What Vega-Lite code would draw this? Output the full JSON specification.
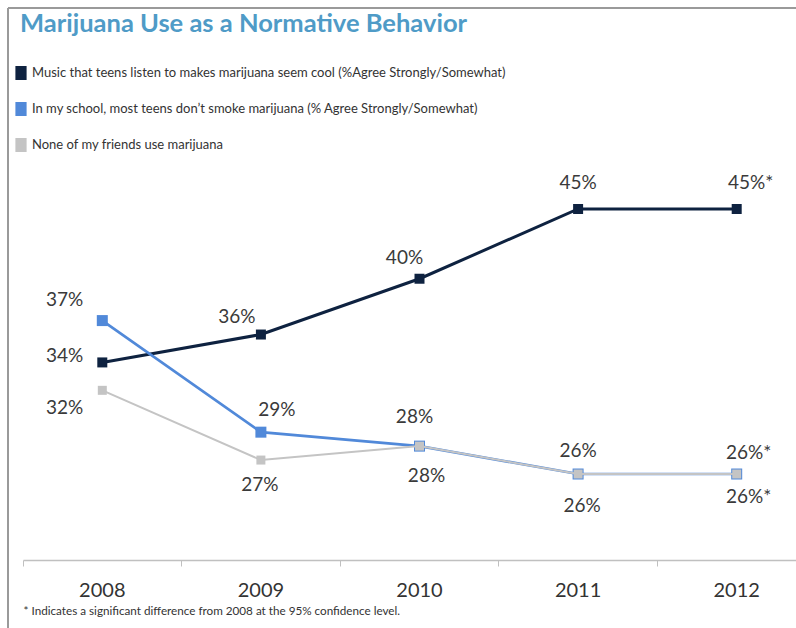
{
  "$schema": "https://vega.github.io/schema/vega-lite/v6.json",
  "width": 788,
  "height": 620,
  "autosize": {"type": "none"},
  "padding": {"left": 8, "top": 8, "right": 0, "bottom": 0},
  "background": "#ffffff",
  "config": {
    "font": "Lato",
    "view": {"stroke": "#9a9a9a", "strokeWidth": 2, "strokeDash": [788, 1408, 620, 0]}
  },
  "data": {
    "values": [
      {"k": "music", "series": "Music that teens listen to makes marijuana seem cool (%Agree Strongly/Somewhat)", "year": "2008", "value": 34, "label": "34%"},
      {"k": "music", "series": "Music that teens listen to makes marijuana seem cool (%Agree Strongly/Somewhat)", "year": "2009", "value": 36, "label": "36%"},
      {"k": "music", "series": "Music that teens listen to makes marijuana seem cool (%Agree Strongly/Somewhat)", "year": "2010", "value": 40, "label": "40%"},
      {"k": "music", "series": "Music that teens listen to makes marijuana seem cool (%Agree Strongly/Somewhat)", "year": "2011", "value": 45, "label": "45%"},
      {"k": "music", "series": "Music that teens listen to makes marijuana seem cool (%Agree Strongly/Somewhat)", "year": "2012", "value": 45, "label": "45%*"},
      {"k": "school", "series": "In my school, most teens don’t smoke marijuana (% Agree Strongly/Somewhat)", "year": "2008", "value": 37, "label": "37%"},
      {"k": "school", "series": "In my school, most teens don’t smoke marijuana (% Agree Strongly/Somewhat)", "year": "2009", "value": 29, "label": "29%"},
      {"k": "school", "series": "In my school, most teens don’t smoke marijuana (% Agree Strongly/Somewhat)", "year": "2010", "value": 28, "label": "28%"},
      {"k": "school", "series": "In my school, most teens don’t smoke marijuana (% Agree Strongly/Somewhat)", "year": "2011", "value": 26, "label": "26%"},
      {"k": "school", "series": "In my school, most teens don’t smoke marijuana (% Agree Strongly/Somewhat)", "year": "2012", "value": 26, "label": "26%*"},
      {"k": "friends", "series": "None of my friends use marijuana", "year": "2008", "value": 32, "label": "32%"},
      {"k": "friends", "series": "None of my friends use marijuana", "year": "2009", "value": 27, "label": "27%"},
      {"k": "friends", "series": "None of my friends use marijuana", "year": "2010", "value": 28, "label": "28%"},
      {"k": "friends", "series": "None of my friends use marijuana", "year": "2011", "value": 26, "label": "26%"},
      {"k": "friends", "series": "None of my friends use marijuana", "year": "2012", "value": 26, "label": "26%*"}
    ]
  },
  "encoding": {
    "x": {
      "field": "year", "type": "ordinal", "bandPosition": 0.5,
      "scale": {"type": "band", "range": [15, 808], "paddingInner": 0, "paddingOuter": 0},
      "axis": {
        "orient": "bottom", "offset": -68, "bandPosition": 0,
        "domainColor": "#c0c0c0", "domainWidth": 1.5, "tickColor": "#c0c0c0", "tickSize": 6, "tickWidth": 1,
        "grid": false, "labelAngle": 0, "labelFontSize": 20, "labelColor": "#333333", "labelPadding": 14,
        "title": "* Indicates a significant difference from 2008 at the 95% confidence level.",
        "titleFontSize": 11.7, "titleFontWeight": "normal", "titleColor": "#333333",
        "titleAnchor": "start", "titleAlign": "left", "titlePadding": 5
      }
    },
    "y": {
      "field": "value", "type": "quantitative",
      "scale": {"domain": [14.96, 59.41], "nice": false, "zero": false},
      "axis": null
    }
  },
  "layer": [
    {
      "transform": [{"filter": "datum.k === 'music'"}],
      "mark": {"type": "line", "strokeWidth": 3},
      "encoding": {
        "color": {
          "field": "series", "type": "nominal",
          "scale": {
            "domain": ["Music that teens listen to makes marijuana seem cool (%Agree Strongly/Somewhat)", "In my school, most teens don’t smoke marijuana (% Agree Strongly/Somewhat)", "None of my friends use marijuana"],
            "range": ["#0e2240", "#5189d9", "#c4c4c4"]
          },
          "legend": {
            "orient": "none", "legendX": 12, "legendY": 4,
            "title": "Marijuana Use as a Normative Behavior",
            "titleFontSize": 25.5, "titleFontWeight": "bold", "titleColor": "#4f9bc7", "titleLimit": 1000, "titlePadding": 28.5,
            "labelFontSize": 13, "labelColor": "#333333", "labelLimit": 1000, "labelOffset": 4,
            "rowPadding": 22,
            "symbolType": "M-0.8,-1L0.8,-1L0.8,1L-0.8,1Z", "symbolSize": 196, "symbolOffset": -6, "symbolStrokeWidth": 0,
            "encode": {"symbols": {"update": {"fill": {"scale": "color", "field": "value"}, "stroke": {"value": "transparent"}, "fillOpacity": {"value": 1}}}}
          }
        }
      }
    },
    {
      "transform": [{"filter": "datum.k === 'music'"}],
      "mark": {"type": "point", "shape": "square", "filled": true, "size": 100, "opacity": 1},
      "encoding": {"color": {"field": "series", "type": "nominal"}}
    },
    {
      "transform": [{"filter": "datum.k === 'school'"}],
      "mark": {"type": "line", "strokeWidth": 2.7},
      "encoding": {"color": {"field": "series", "type": "nominal"}}
    },
    {
      "transform": [{"filter": "datum.k === 'school'"}],
      "mark": {"type": "point", "shape": "square", "filled": true, "size": 121, "opacity": 1},
      "encoding": {"color": {"field": "series", "type": "nominal"}}
    },
    {
      "transform": [{"filter": "datum.k === 'friends'"}],
      "mark": {"type": "line", "strokeWidth": 2},
      "encoding": {"color": {"field": "series", "type": "nominal"}}
    },
    {
      "transform": [{"filter": "datum.k === 'friends'"}],
      "mark": {"type": "point", "shape": "square", "filled": true, "size": 81, "opacity": 1},
      "encoding": {"color": {"field": "series", "type": "nominal"}}
    },
    {"transform": [{"filter": "datum.k === 'music' && datum.year === '2008'"}], "mark": {"type": "text", "fontSize": 19, "color": "#3a3a3a", "align": "right", "baseline": "middle", "dx": -19, "dy": -6}, "encoding": {"text": {"field": "label"}}},
    {"transform": [{"filter": "datum.k === 'music' && datum.year === '2009'"}], "mark": {"type": "text", "fontSize": 19, "color": "#3a3a3a", "align": "center", "baseline": "middle", "dx": -24, "dy": -18}, "encoding": {"text": {"field": "label"}}},
    {"transform": [{"filter": "datum.k === 'music' && datum.year === '2010'"}], "mark": {"type": "text", "fontSize": 19, "color": "#3a3a3a", "align": "center", "baseline": "middle", "dx": -15, "dy": -21}, "encoding": {"text": {"field": "label"}}},
    {"transform": [{"filter": "datum.k === 'music' && datum.year === '2011'"}], "mark": {"type": "text", "fontSize": 19, "color": "#3a3a3a", "align": "center", "baseline": "middle", "dx": 0, "dy": -26}, "encoding": {"text": {"field": "label"}}},
    {"transform": [{"filter": "datum.k === 'music' && datum.year === '2012'"}], "mark": {"type": "text", "fontSize": 19, "color": "#3a3a3a", "align": "center", "baseline": "middle", "dx": 14, "dy": -26}, "encoding": {"text": {"field": "label"}}},
    {"transform": [{"filter": "datum.k === 'school' && datum.year === '2008'"}], "mark": {"type": "text", "fontSize": 19, "color": "#3a3a3a", "align": "right", "baseline": "middle", "dx": -19, "dy": -21}, "encoding": {"text": {"field": "label"}}},
    {"transform": [{"filter": "datum.k === 'school' && datum.year === '2009'"}], "mark": {"type": "text", "fontSize": 19, "color": "#3a3a3a", "align": "center", "baseline": "middle", "dx": 16, "dy": -22}, "encoding": {"text": {"field": "label"}}},
    {"transform": [{"filter": "datum.k === 'school' && datum.year === '2010'"}], "mark": {"type": "text", "fontSize": 19, "color": "#3a3a3a", "align": "center", "baseline": "middle", "dx": -5, "dy": -29}, "encoding": {"text": {"field": "label"}}},
    {"transform": [{"filter": "datum.k === 'school' && datum.year === '2011'"}], "mark": {"type": "text", "fontSize": 19, "color": "#3a3a3a", "align": "center", "baseline": "middle", "dx": 0, "dy": -23}, "encoding": {"text": {"field": "label"}}},
    {"transform": [{"filter": "datum.k === 'school' && datum.year === '2012'"}], "mark": {"type": "text", "fontSize": 19, "color": "#3a3a3a", "align": "center", "baseline": "middle", "dx": 12, "dy": -21}, "encoding": {"text": {"field": "label"}}},
    {"transform": [{"filter": "datum.k === 'friends' && datum.year === '2008'"}], "mark": {"type": "text", "fontSize": 19, "color": "#3a3a3a", "align": "right", "baseline": "middle", "dx": -19, "dy": 18}, "encoding": {"text": {"field": "label"}}},
    {"transform": [{"filter": "datum.k === 'friends' && datum.year === '2009'"}], "mark": {"type": "text", "fontSize": 19, "color": "#3a3a3a", "align": "center", "baseline": "middle", "dx": -1, "dy": 25}, "encoding": {"text": {"field": "label"}}},
    {"transform": [{"filter": "datum.k === 'friends' && datum.year === '2010'"}], "mark": {"type": "text", "fontSize": 19, "color": "#3a3a3a", "align": "center", "baseline": "middle", "dx": 7, "dy": 30}, "encoding": {"text": {"field": "label"}}},
    {"transform": [{"filter": "datum.k === 'friends' && datum.year === '2011'"}], "mark": {"type": "text", "fontSize": 19, "color": "#3a3a3a", "align": "center", "baseline": "middle", "dx": 4, "dy": 32}, "encoding": {"text": {"field": "label"}}},
    {"transform": [{"filter": "datum.k === 'friends' && datum.year === '2012'"}], "mark": {"type": "text", "fontSize": 19, "color": "#3a3a3a", "align": "center", "baseline": "middle", "dx": 12, "dy": 23}, "encoding": {"text": {"field": "label"}}}
  ]
}
